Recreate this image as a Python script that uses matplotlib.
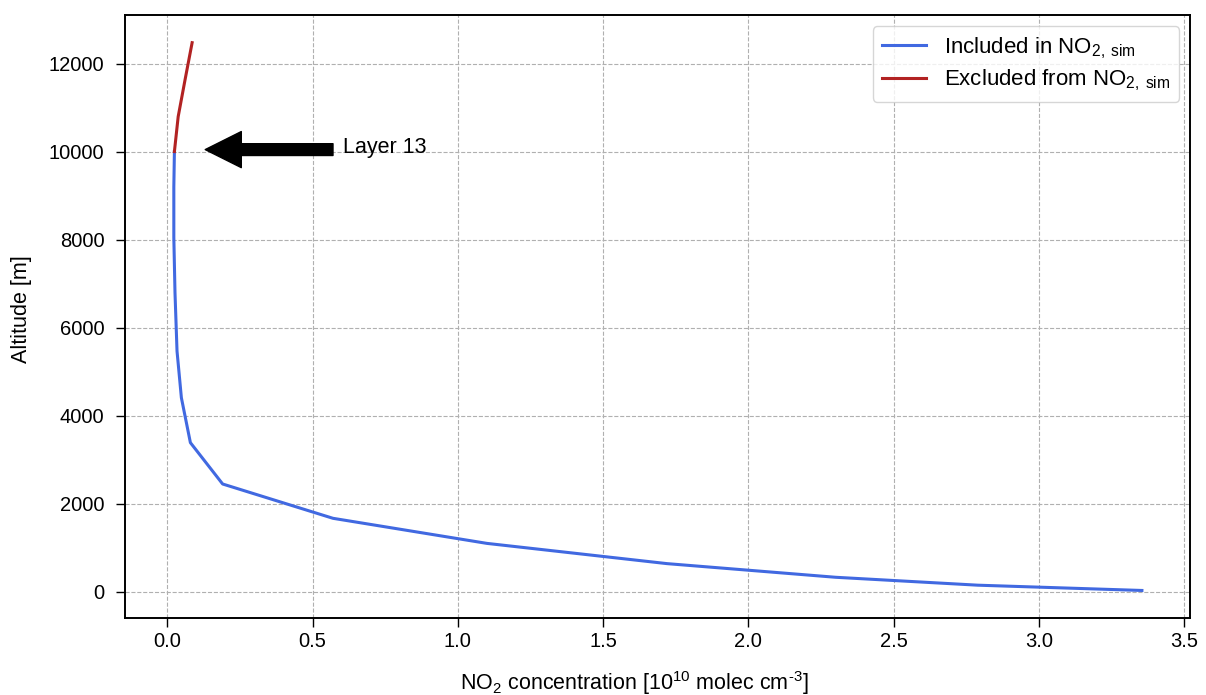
import matplotlib
matplotlib.use("Agg")
from matplotlib import pyplot as plt

# NO2 vertical profile (10^10 molec cm-3) vs altitude (m)
incl_conc = [3.355, 2.79, 2.30, 1.72, 1.10, 0.57, 0.19, 0.079, 0.048, 0.033,
             0.026, 0.022, 0.022, 0.024]
incl_alt = [30, 150, 330, 640, 1100, 1670, 2450, 3390, 4410, 5470,
            6800, 8050, 9200, 10005]
excl_conc = [0.024, 0.037, 0.061, 0.085]
excl_alt = [10005, 10800, 11650, 12480]

arrow_tip = (0.13, 10050)
arrow_tail = (0.57, 10050)
label_pos = (0.605, 10100)

plt.rcParams['font.family'] = ['Liberation Sans', 'DejaVu Sans']
plt.rcParams['mathtext.fontset'] = 'custom'
plt.rcParams['mathtext.rm'] = 'Liberation Sans'
plt.rcParams['mathtext.it'] = 'Liberation Sans:italic'
plt.rcParams['mathtext.bf'] = 'Liberation Sans:bold'

fig = plt.figure(figsize=(12.06, 6.95), dpi=100)
ax = fig.add_axes([0.104, 0.111, 0.883, 0.867])

ax.plot(incl_conc, incl_alt, color='royalblue', linewidth=2.2,
        label=r'Included in NO$_{2,\;\mathrm{sim}}$')
ax.plot(excl_conc, excl_alt, color='firebrick', linewidth=2.2,
        label=r'Excluded from NO$_{2,\;\mathrm{sim}}$')

ax.annotate('', xy=arrow_tip, xytext=arrow_tail,
            arrowprops=dict(facecolor='black', edgecolor='black',
                            width=8.5, headwidth=26, headlength=26, shrink=0))
ax.text(*label_pos, 'Layer 13', fontsize=15.5, va='center', ha='left')

ax.grid(True, linestyle='--', color='#b0b0b0', linewidth=0.8)
ax.set_axisbelow(True)
ax.set_xlabel(r'NO$_2$ concentration [10$^{10}$ molec cm$^{\text{-3}}$]',
              fontsize=15.5, labelpad=13)
ax.set_ylabel('Altitude [m]', fontsize=15.5, labelpad=12)
ax.xaxis.label.set_x(0.4775)
ax.yaxis.label.set_y(0.512)
ax.tick_params(labelsize=14.5, width=1.0, length=6.5)
ax.tick_params(axis='y', pad=8.5)
ax.tick_params(axis='x', pad=4)
for s in ax.spines.values():
    s.set_linewidth(1.4)

ax.legend(loc='upper right', fontsize=16, labelspacing=0.3)

fig.savefig('out.png', dpi=100)
